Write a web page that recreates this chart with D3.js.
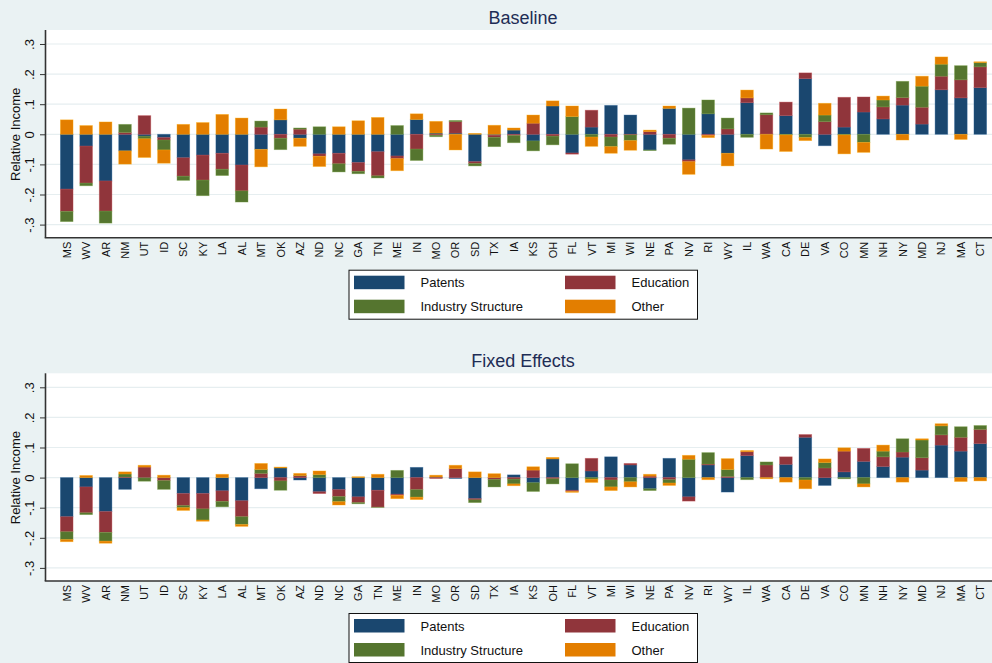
<!DOCTYPE html>
<html>
<head>
<meta charset="utf-8">
<script src="https://cdn.jsdelivr.net/npm/d3@7/dist/d3.min.js"></script>
<style>
  html, body { margin: 0; padding: 0; background: #eaf2f3; }
  svg { display: block; }
  text { font-family: "Liberation Sans", Arial, sans-serif; }
</style>
</head>
<body>
<svg id="chart" width="992" height="663"></svg>
<script>
// States, ordered by baseline relative income
const states = ["MS","WV","AR","NM","UT","ID","SC","KY","LA","AL","MT","OK","AZ","ND","NC","GA","TN","ME","IN","MO","OR","SD","TX","IA","KS","OH","FL","VT","MI","WI","NE","PA","NV","RI","WY","IL","WA","CA","DE","VA","CO","MN","NH","NY","MD","NJ","MA","CT"];

// Baseline decomposition
const basePatents = [-0.182,-0.039,-0.155,-0.055,-0.006,-0.011,-0.078,-0.069,-0.063,-0.102,-0.050,0.048,-0.013,-0.065,-0.063,-0.094,-0.058,-0.072,0.049,0.004,0.004,-0.091,-0.003,0.014,-0.022,0.094,-0.062,0.024,0.096,0.064,-0.052,0.086,-0.085,0.068,-0.063,0.105,0.001,0.062,0.185,-0.038,0.024,0.074,0.051,0.097,0.034,0.148,0.121,0.155];
const baseEducation = [-0.074,-0.123,-0.100,0.006,0.062,-0.008,-0.061,-0.083,-0.053,-0.086,0.024,-0.013,0.017,-0.008,-0.035,-0.029,-0.080,-0.009,-0.049,-0.003,0.038,-0.006,-0.007,-0.004,0.037,-0.006,-0.004,0.056,-0.009,-0.002,0.009,-0.013,-0.006,-0.004,0.018,0.016,0.064,0.045,0.019,0.042,0.099,0.050,0.040,0.025,0.056,0.045,0.060,0.069];
const baseIndustry = [-0.034,-0.009,-0.040,0.027,-0.009,-0.033,-0.014,-0.052,-0.021,-0.037,0.020,-0.038,0.004,0.025,-0.027,-0.008,-0.007,0.029,-0.038,-0.005,0.004,-0.008,-0.031,-0.024,-0.033,-0.029,0.059,-0.009,-0.032,-0.019,-0.002,-0.020,0.087,0.046,0.036,-0.010,0.006,-0.002,-0.011,0.022,-0.002,-0.027,0.023,0.054,0.070,0.040,0.047,0.014];
const baseOther = [0.048,0.029,0.041,-0.044,-0.062,-0.044,0.033,0.039,0.066,0.054,-0.058,0.036,-0.027,-0.034,0.025,0.045,0.056,-0.040,0.019,0.039,-0.052,0.003,0.030,0.007,0.027,0.017,0.035,-0.031,-0.022,-0.032,0.005,0.008,-0.042,-0.007,-0.042,0.026,-0.049,-0.055,-0.010,0.039,-0.063,-0.033,0.013,-0.019,0.033,0.024,-0.017,0.003];

// Fixed-effects decomposition
const fePatents = [-0.130,-0.031,-0.113,-0.039,-0.001,-0.001,-0.053,-0.053,-0.044,-0.077,-0.037,0.032,-0.008,-0.047,-0.040,-0.064,-0.042,-0.055,0.034,0.002,-0.003,-0.070,-0.001,0.009,-0.017,0.062,-0.042,0.022,0.069,0.042,-0.037,0.064,-0.064,0.042,-0.048,0.073,0.001,0.044,0.134,-0.026,0.019,0.054,0.037,0.068,0.025,0.108,0.088,0.113];
const feEducation = [-0.050,-0.086,-0.069,0.002,0.035,-0.009,-0.040,-0.051,-0.035,-0.053,0.014,-0.011,0.006,-0.006,-0.023,-0.019,-0.056,-0.004,-0.040,-0.003,0.030,-0.004,-0.005,-0.005,0.025,-0.004,-0.004,0.042,-0.008,0.005,0.005,-0.007,-0.014,0.003,0.004,0.013,0.041,0.025,0.009,0.032,0.069,0.043,0.032,0.017,0.041,0.034,0.046,0.047];
const feIndustry = [-0.026,-0.006,-0.029,0.010,-0.011,-0.029,-0.007,-0.037,-0.018,-0.026,0.013,-0.031,0.001,0.010,-0.017,-0.004,-0.001,0.024,-0.025,0.000,0.000,-0.009,-0.025,-0.016,-0.029,-0.017,0.046,-0.005,-0.023,-0.014,-0.006,-0.011,0.061,0.038,0.023,-0.007,0.010,0.000,-0.008,0.018,-0.004,-0.021,0.019,0.044,0.059,0.030,0.035,0.013];
const feOther = [-0.007,0.007,-0.007,0.007,0.006,0.008,-0.009,-0.004,0.011,-0.006,0.020,0.003,0.007,0.012,-0.011,0.003,0.011,-0.011,-0.008,0.006,0.011,0.019,0.013,-0.006,0.011,0.005,-0.003,-0.011,-0.012,-0.017,0.006,-0.008,0.013,-0.007,0.036,0.004,-0.004,-0.015,-0.029,0.012,0.011,-0.010,0.020,-0.015,0.004,0.007,-0.013,-0.011];

const seriesKeys = ["Patents","Education","Industry Structure","Other"];
const seriesColors = ["#1a476f","#90353b","#55752f","#e37e00"];
const yTicks = [-0.3,-0.2,-0.1,0,0.1,0.2,0.3];
const yTickLabels = ["-.3","-.2","-.1","0",".1",".2",".3"];

const panels = [
  { title: "Baseline", series: [basePatents, baseEducation, baseIndustry, baseOther], top: 30 },
  { title: "Fixed Effects", series: [fePatents, feEducation, feIndustry, feOther], top: 373.3 }
];

const svg = d3.select("#chart");
const W = 992;
const plotLeft = 46, plotRight = 992, plotH = 207.7;
const color = d3.scaleOrdinal().domain(seriesKeys).range(seriesColors);

const x = d3.scaleBand()
  .domain(states)
  .range([57, 990])
  .paddingInner(0.35)
  .paddingOuter(0.175);

panels.forEach(p => {
  const g = svg.append("g");
  const top = p.top, bottom = top + plotH;
  const y = d3.scaleLinear().domain([-0.3435, 0.3465]).range([bottom, top]);

  // title
  g.append("text")
    .attr("x", 523).attr("y", top - 6)
    .attr("text-anchor", "middle")
    .attr("font-size", 18)
    .attr("fill", "#1e2d55")
    .text(p.title);

  // plot area
  g.append("rect")
    .attr("x", plotLeft).attr("y", top)
    .attr("width", plotRight - plotLeft).attr("height", plotH)
    .attr("fill", "#ffffff");

  // gridlines
  g.append("g").selectAll("line").data(yTicks).join("line")
    .attr("x1", plotLeft).attr("x2", plotRight)
    .attr("y1", d => y(d)).attr("y2", d => y(d))
    .attr("stroke", "#e6eef0").attr("stroke-width", 1.2);

  // stacked bars (positive and negative parts stacked separately)
  const rows = states.map((s, i) => {
    const r = { state: s };
    seriesKeys.forEach((k, j) => { r[k] = p.series[j][i]; });
    return r;
  });
  const stacked = d3.stack().keys(seriesKeys)
    .order(d3.stackOrderNone)
    .offset(d3.stackOffsetDiverging)(rows);

  g.append("g").selectAll("g").data(stacked).join("g")
    .attr("fill", d => color(d.key))
    .attr("stroke", d => d3.color(color(d.key)).brighter(0.8))
    .attr("stroke-opacity", 0.45)
    .attr("stroke-width", 0.8)
    .selectAll("rect").data(d => d).join("rect")
    .attr("x", d => x(d.data.state))
    .attr("width", x.bandwidth())
    .attr("y", d => y(Math.max(d[0], d[1])))
    .attr("height", d => Math.abs(y(d[0]) - y(d[1])));

  // y axis
  const yAxis = d3.axisLeft(y).tickValues(yTicks)
    .tickFormat((d, i) => yTickLabels[i])
    .tickSize(6).tickPadding(0);
  const ya = g.append("g").attr("transform", `translate(${plotLeft},0)`).call(yAxis);
  ya.select(".domain").attr("stroke", "#333").attr("stroke-width", 1.6)
    .attr("d", `M-0.5,${top}V${bottom}`);
  ya.selectAll(".tick line").attr("stroke", "#333").attr("stroke-width", 1);
  ya.selectAll(".tick text")
    .attr("x", 0).attr("y", 0).attr("dy", null)
    .attr("text-anchor", "middle")
    .attr("dominant-baseline", "central")
    .attr("transform", "translate(-16.5,0) rotate(-90)")
    .attr("font-size", 13)
    .attr("fill", "#111");

  // y axis title
  g.append("text")
    .attr("transform", `translate(15.5,${y(0)}) rotate(-90)`)
    .attr("text-anchor", "middle")
    .attr("dominant-baseline", "central")
    .attr("font-size", 13)
    .attr("fill", "#111")
    .text("Relative Income");

  // x axis with rotated state labels
  const xAxis = d3.axisBottom(x).tickSize(0).tickPadding(0);
  const xa = g.append("g").attr("transform", `translate(0,${bottom})`).call(xAxis);
  xa.select(".domain").remove();
  xa.selectAll(".tick text")
    .attr("y", 0).attr("dy", null)
    .attr("text-anchor", "end")
    .attr("dominant-baseline", "central")
    .attr("transform", "translate(0,4) rotate(-90)")
    .attr("font-size", 11)
    .attr("fill", "#111");
  g.append("line")
    .attr("x1", plotLeft - 1.3).attr("x2", plotRight)
    .attr("y1", bottom).attr("y2", bottom)
    .attr("stroke", "#333").attr("stroke-width", 1.6);

  // legend
  const ly = bottom + 32.5;
  const lg = g.append("g").attr("transform", `translate(349,${ly})`);
  lg.append("rect")
    .attr("x", 0).attr("y", 0).attr("width", 348.5).attr("height", 49)
    .attr("fill", "#fff").attr("stroke", "#111").attr("stroke-width", 1);
  const items = lg.selectAll("g").data(seriesKeys).join("g")
    .attr("transform", (d, i) => `translate(${i % 2 === 0 ? 5 : 216},${i < 2 ? 5.5 : 29.5})`);
  items.append("rect")
    .attr("width", 50.5).attr("height", 13.5)
    .attr("fill", d => color(d));
  items.append("text")
    .attr("x", 66.5).attr("y", 7)
    .attr("dominant-baseline", "central")
    .attr("font-size", 13)
    .attr("fill", "#111")
    .text(d => d);
});
</script>
</body>
</html>
